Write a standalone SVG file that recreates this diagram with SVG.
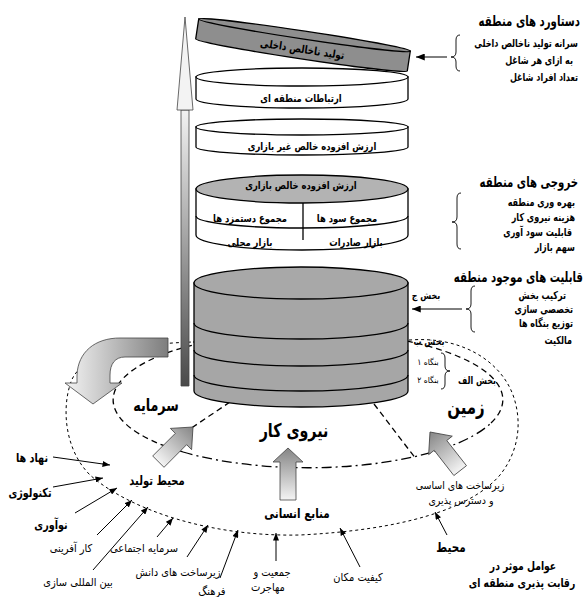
<svg xmlns="http://www.w3.org/2000/svg" width="588" height="597" viewBox="0 0 588 597">
<defs>
<style>
.t{font-family:"DejaVu Sans","Noto Sans",sans-serif;fill:#000}
.b{font-weight:bold}
.m{text-anchor:middle}
.e{text-anchor:end}
.ln{fill:none;stroke:#000;stroke-width:1.3}
.cyl{stroke:#000;stroke-width:1.3}
.d1{fill:none;stroke:#000;stroke-width:1;stroke-dasharray:3,3}
.d2{fill:none;stroke:#000;stroke-width:1.3;stroke-dasharray:6,4}
.d3{fill:none;stroke:#000;stroke-width:1.3;stroke-dasharray:10,4,2,4}
.ar{fill:none;stroke:#000;stroke-width:1}
.br{fill:none;stroke:#000;stroke-width:0.9}
.fat{stroke:#444;stroke-width:0.8}
</style>
<marker id="ah" viewBox="0 0 10 8" refX="10" refY="4" markerWidth="9" markerHeight="7" markerUnits="userSpaceOnUse" orient="auto">
<path d="M0,0 L10,4 L0,8 Z" fill="#000"/>
</marker>
<marker id="ahs" viewBox="0 0 10 8" refX="10" refY="4" markerWidth="8" markerHeight="6" markerUnits="userSpaceOnUse" orient="auto">
<path d="M0,0 L10,4 L0,8 Z" fill="#000"/>
</marker>
<linearGradient id="gUp" x1="0" y1="0" x2="0" y2="1">
<stop offset="0" stop-color="#858585"/>
<stop offset="1" stop-color="#f4f4f4"/>
</linearGradient>
<linearGradient id="gShaft" x1="0" y1="0" x2="0" y2="1">
<stop offset="0" stop-color="#f2f2f2"/>
<stop offset="1" stop-color="#4a4a4a"/>
</linearGradient>
<linearGradient id="gCurve" x1="0" y1="0" x2="1" y2="0">
<stop offset="0" stop-color="#f4f4f4"/>
<stop offset="1" stop-color="#7d7d7d"/>
</linearGradient>
</defs>
<rect width="588" height="597" fill="#fff"/>

<g id="connectors">
<path class="d1" d="M193,342 L410,340 C460,336 500,360 513,395 C522,420 520,450 500,475 C470,510 400,530 300,535 C210,537 130,510 90,475 C65,450 62,410 70,385 C75,365 100,345 193,342"/>
<path class="d2" d="M241,336 A195 68 0 0 0 183,452"/>
<path class="d3" d="M183,452 A195 68 0 0 0 491,423"/>
<path class="d2" d="M491,423 A195 68 0 0 0 390,338"/>
<path class="d2" d="M230,402 L190,429"/>
<path class="d2" d="M374,404 L416,459"/>
<path class="ar" marker-end="url(#ahs)" d="M53,457 L110,465"/>
<path class="ar" marker-end="url(#ahs)" d="M53,487 L103,478"/>
<path class="ar" marker-end="url(#ahs)" d="M75,513 L117,488"/>
<path class="ar" marker-end="url(#ahs)" d="M97,535 L132,500"/>
<path class="ar" marker-end="url(#ahs)" d="M93,570 L148,507"/>
<path class="ar" marker-end="url(#ahs)" d="M157,537 L173,518"/>
<path class="ar" marker-end="url(#ahs)" d="M187,557 L208,525"/>
<path class="ar" marker-end="url(#ahs)" d="M220,578 L238,530"/>
<path class="ar" marker-end="url(#ahs)" d="M276,561 L276,533"/>
<path class="ar" marker-end="url(#ahs)" d="M360,567 L340,528"/>
<path class="ar" marker-end="url(#ahs)" d="M447,535 L435,512"/>
<path class="ar" marker-end="url(#ah)" d="M447,57 L416,57"/>
<path class="ar" marker-end="url(#ah)" d="M462,309 L412,309"/>
</g>

<g id="growth-arrow">
<path class="fat" fill="url(#gShaft)" d="M181,110 L189,110 L189,386 L181,386 Z"/>
<path class="fat" fill="#f3f3f3" d="M185,17 L193,110 L177,110 Z"/>
</g>

<g id="disk-gdp" transform="rotate(8.6 303 45)">
<path class="cyl" fill="#8e8e8e" d="M196,35 L196,55 A107 4 0 0 0 410,55 L410,35 Z"/>
<ellipse class="cyl" fill="#8e8e8e" cx="303" cy="35" rx="107" ry="4"/>
<text class="t b m" x="303" y="53" font-size="11" transform="matrix(0.8 0 0 1 60.6 0)">تولید ناخالص داخلی</text>
</g>

<g id="disk-links">
<path class="cyl" fill="#fff" d="M196,77 L196,99 A106 9 0 0 0 408,99 L408,77 Z"/>
<ellipse class="cyl" fill="#fff" cx="302" cy="77" rx="106" ry="9"/>
<text class="t b m" x="301" y="102" font-size="10.5" transform="matrix(0.8 0 0 1 60.2 0)">ارتباطات منطقه ای</text>
</g>

<g id="disk-nonmarket">
<path class="cyl" fill="#fff" d="M196,127 L196,147 A106 8 0 0 0 408,147 L408,127 Z"/>
<ellipse class="cyl" fill="#fff" cx="302" cy="127" rx="106" ry="8"/>
<text class="t b m" x="312" y="150" font-size="10.5" transform="matrix(0.8 0 0 1 62.4 0)">ارزش افزوده خالص غیر بازاری</text>
</g>

<g id="disk-market">
<path class="cyl" fill="#fff" d="M196,189 L196,235 A106 15 0 0 0 408,235 L408,189 Z"/>
<ellipse class="cyl" fill="#b3b3b3" cx="302" cy="189" rx="106" ry="14"/>
<path class="ln" d="M196,216 A106 12 0 0 0 408,216"/>
<path class="ln" d="M303,203 L303,240"/>
<text class="t b m" x="301" y="189" font-size="10.5" transform="matrix(0.8 0 0 1 60.2 0)">ارزش افزوده خالص بازاری</text>
<text class="t b m" x="250" y="222" font-size="10.5" transform="matrix(0.8 0 0 1 50 0)">مجموع دستمزد ها</text>
<text class="t b m" x="347" y="222" font-size="10.5" transform="matrix(0.8 0 0 1 69.4 0)">مجموع سود ها</text>
<text class="t b m" x="250" y="246" font-size="10.5" transform="matrix(0.8 0 0 1 50 0)">بازار محلی</text>
<text class="t b m" x="356" y="246" font-size="10.5" transform="matrix(0.8 0 0 1 71.2 0)">بازار صادرات</text>
</g>

<g id="stack">
<path class="cyl" fill="#a6a6a6" d="M194,283 L194,391 A107 16 0 0 0 408,391 L408,283 Z"/>
<ellipse class="cyl" fill="#a8a8a8" cx="301" cy="283" rx="107" ry="16"/>
<path class="ln" d="M194,323 A107 16 0 0 0 408,323"/>
<path class="ln" d="M194,350 A107 16 0 0 0 408,350"/>
<path class="ln" d="M194,375 A107 16 0 0 0 408,375"/>
<text class="t b m" x="426" y="299" font-size="10" transform="matrix(0.8 0 0 1 85.2 0)">بخش ج</text>
<text class="t b m" x="429" y="345" font-size="10" transform="matrix(0.8 0 0 1 85.8 0)">بخش ب</text>
<text class="t m" x="428" y="365" font-size="8.5" transform="matrix(0.9 0 0 1 42.8 0)">بنگاه ۱</text>
<text class="t m" x="428" y="383" font-size="8.5" transform="matrix(0.9 0 0 1 42.8 0)">بنگاه ۲</text>
<path class="br" d="M441,353 Q445,353 445,358 L445,366 Q445,371 450,371 Q445,371 445,376 L445,384 Q445,389 441,389"/>
<text class="t b m" x="477" y="384" font-size="10" transform="matrix(0.8 0 0 1 95.4 0)">بخش الف</text>
</g>

<g id="capital-arrow">
<path class="fat" fill="url(#gCurve)" d="M168,338 L120,338 C95,338 78,352 77,375 L77,383 L65,383 L93,404 L122,383 L110,383 L110,375 C110,364 115,357 125,357 L168,357 Z"/>
</g>

<g id="arrow-production" transform="translate(193 427) rotate(45)">
<path class="fat" fill="url(#gUp)" d="M0,0 L15,17 L8,17 L8,49 L-8,49 L-8,17 L-15,17 Z"/>
</g>
<g id="arrow-human" transform="translate(288 448)">
<path class="fat" fill="url(#gUp)" d="M0,0 L15,14 L8,14 L8,52 L-8,52 L-8,14 L-15,14 Z"/>
</g>
<g id="arrow-infra" transform="translate(430 432) rotate(-38)">
<path class="fat" fill="url(#gUp)" d="M0,0 L15,17 L8,17 L8,49 L-8,49 L-8,17 L-15,17 Z"/>
</g>

<g id="sectors">
<text class="t b m" x="156" y="411" font-size="17" transform="matrix(0.75 0 0 1 39 0)">سرمایه</text>
<text class="t b m" x="294" y="437" font-size="19" transform="matrix(0.75 0 0 1 73.5 0)">نیروی کار</text>
<text class="t b m" x="466" y="414" font-size="20" transform="matrix(0.75 0 0 1 116.5 0)">زمین</text>
<text class="t b m" x="157" y="485" font-size="13" transform="matrix(0.77 0 0 1 36.11 0)">محیط تولید</text>
<text class="t b m" x="297" y="518" font-size="13.5" transform="matrix(0.77 0 0 1 68.31 0)">منابع انسانی</text>
<text class="t m" x="460" y="489" font-size="10.5" transform="matrix(0.9 0 0 1 46 0)">زیرساخت های اساسی</text>
<text class="t m" x="461" y="504" font-size="10.5" transform="matrix(0.9 0 0 1 46.1 0)">و دسترس پذیری</text>
<text class="t b m" x="451" y="552" font-size="13.5" transform="matrix(0.77 0 0 1 103.73 0)">محیط</text>
</g>

<g id="factors">
<text class="t b m" x="32" y="462" font-size="12.5" transform="matrix(0.77 0 0 1 7.36 0)">نهاد ها</text>
<text class="t b m" x="30" y="497" font-size="12.5" transform="matrix(0.77 0 0 1 6.9 0)">تکنولوژی</text>
<text class="t b m" x="51" y="529" font-size="12.5" transform="matrix(0.77 0 0 1 11.73 0)">نوآوری</text>
<text class="t m" x="71" y="552" font-size="11" transform="matrix(0.9 0 0 1 7.1 0)">کار آفرینی</text>
<text class="t m" x="78" y="586" font-size="11" transform="matrix(0.9 0 0 1 7.8 0)">بین المللی سازی</text>
<text class="t m" x="144" y="552" font-size="11" transform="matrix(0.9 0 0 1 14.4 0)">سرمایه اجتماعی</text>
<text class="t m" x="178" y="576" font-size="11" transform="matrix(0.9 0 0 1 17.8 0)">زیرساخت های دانش</text>
<text class="t m" x="212" y="595" font-size="11" transform="matrix(0.9 0 0 1 21.2 0)">فرهنگ</text>
<text class="t m" x="272" y="576" font-size="11" transform="matrix(0.9 0 0 1 27.2 0)">جمعیت و</text>
<text class="t m" x="268" y="591" font-size="11" transform="matrix(0.9 0 0 1 26.8 0)">مهاجرت</text>
<text class="t m" x="358" y="581" font-size="11" transform="matrix(0.9 0 0 1 35.8 0)">کیفیت مکان</text>
<text class="t b m" x="523" y="570" font-size="12" transform="matrix(0.77 0 0 1 120.29 0)">عوامل موثر در</text>
<text class="t b m" x="522" y="587" font-size="12" transform="matrix(0.77 0 0 1 120.06 0)">رقابت پذیری منطقه ای</text>
</g>

<g id="achievements">
<text class="t b e" x="580" y="26" font-size="14.5" transform="matrix(0.7 0 0 1 174 0)">دستاورد های منطقه</text>
<text class="t b e" x="578" y="47" font-size="11" transform="matrix(0.73 0 0 1 156.06 0)">سرانه تولید ناخالص داخلی</text>
<text class="t b e" x="573" y="64" font-size="11" transform="matrix(0.73 0 0 1 154.71 0)">به ازای هر شاغل</text>
<text class="t b e" x="578" y="81" font-size="11" transform="matrix(0.73 0 0 1 156.06 0)">تعداد افراد شاغل</text>
<path class="br" d="M460,35 Q456,35 456,40 L456,52 Q456,57 451,57 Q456,57 456,62 L456,66 Q456,71 460,71"/>
</g>

<g id="outputs">
<text class="t b e" x="578" y="187" font-size="14.5" transform="matrix(0.7 0 0 1 173.4 0)">خروجی های منطقه</text>
<text class="t b e" x="575" y="206" font-size="11" transform="matrix(0.73 0 0 1 155.25 0)">بهره وری منطقه</text>
<text class="t b e" x="575" y="221" font-size="11" transform="matrix(0.73 0 0 1 155.25 0)">هزینه نیروی کار</text>
<text class="t b e" x="572" y="236" font-size="11" transform="matrix(0.73 0 0 1 154.44 0)">قابلیت سود آوری</text>
<text class="t b e" x="575" y="251" font-size="11" transform="matrix(0.73 0 0 1 155.25 0)">سهم بازار</text>
<path class="br" d="M461,193 Q457,193 457,198 L457,217 Q457,222 452,222 Q457,222 457,227 L457,244 Q457,249 461,249"/>
</g>

<g id="capabilities">
<text class="t b e" x="583" y="282" font-size="14.5" transform="matrix(0.7 0 0 1 174.9 0)">قابلیت های موجود منطقه</text>
<text class="t b e" x="566" y="299" font-size="11" transform="matrix(0.73 0 0 1 152.82 0)">ترکیب بخش</text>
<text class="t b e" x="573" y="313" font-size="11" transform="matrix(0.73 0 0 1 154.71 0)">تخصصی سازی</text>
<text class="t b e" x="573" y="327" font-size="11" transform="matrix(0.73 0 0 1 154.71 0)">توزیع بنگاه ها</text>
<text class="t b e" x="572" y="344" font-size="11" transform="matrix(0.73 0 0 1 154.44 0)">مالکیت</text>
<path class="br" d="M475,286 Q471,286 471,291 L471,304 Q471,309 466,309 Q471,309 471,314 L471,327 Q471,332 475,332"/>
</g>
</svg>
